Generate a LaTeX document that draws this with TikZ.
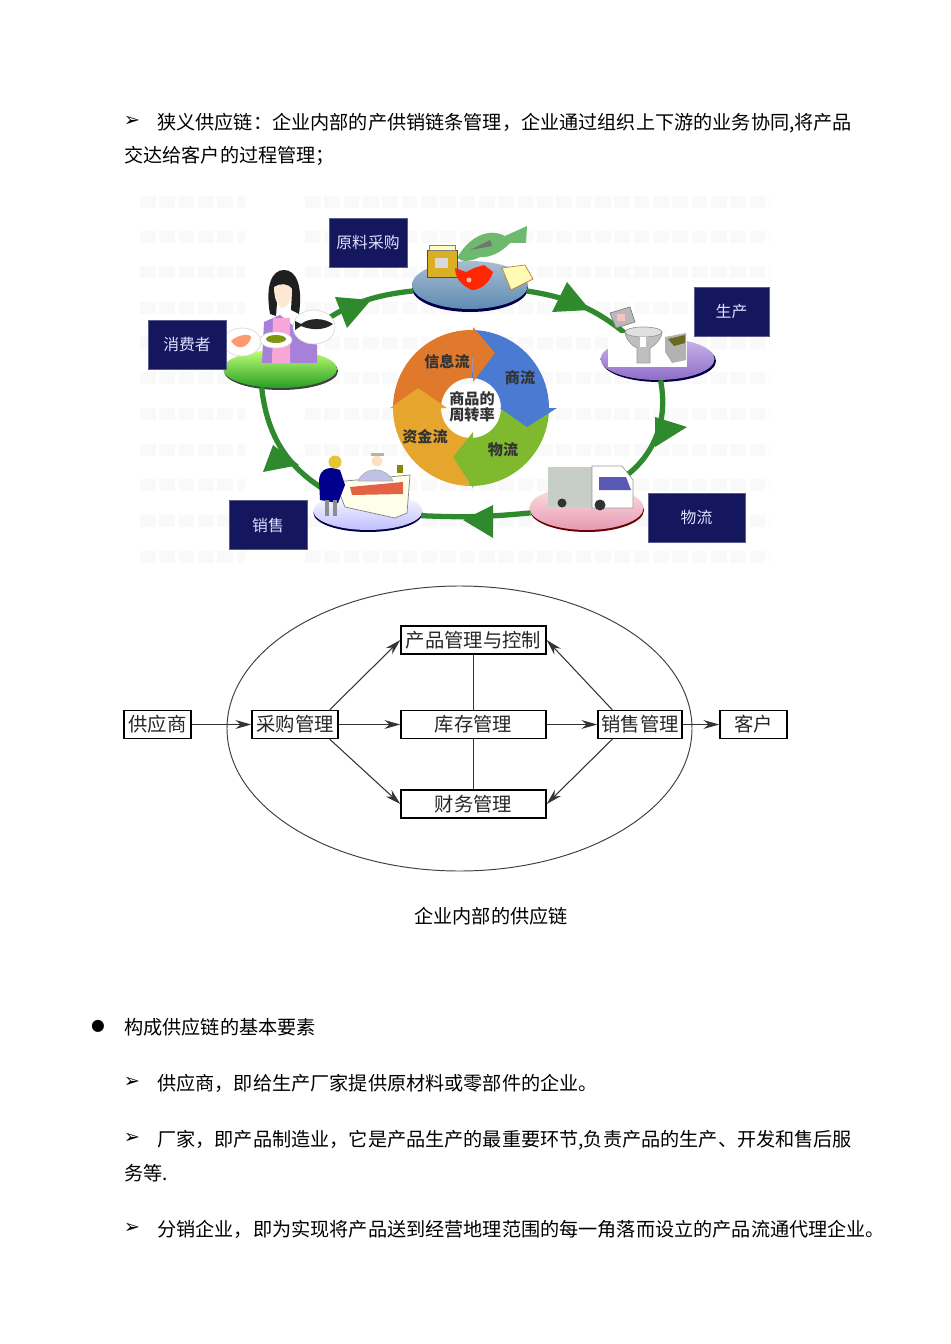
\documentclass[tikz,border=0pt]{standalone}
\usepackage{fontspec}
\setmainfont{Noto Sans CJK SC}
\newfontfamily\symfont{DejaVu Sans}
\usetikzlibrary{positioning}
\usetikzlibrary{arrows.meta}
\usetikzlibrary{shapes.geometric}
\definecolor{navy}{HTML}{14165E}
\definecolor{ringgreen}{HTML}{2E8A2C}
\definecolor{flowred}{HTML}{E0792C}
\definecolor{flowblue}{HTML}{4A7AD2}
\definecolor{flowgreen}{HTML}{7FBA2E}
\definecolor{flowyellow}{HTML}{E6A52C}
\definecolor{rawtop}{HTML}{A9BCD0}
\definecolor{rawlow}{HTML}{5E8CB4}
\definecolor{prodtop}{HTML}{C9B6EA}
\definecolor{prodlow}{HTML}{8F6CC8}

\begin{document}
\begin{tikzpicture}[x=0.02cm,y=-0.02cm,
 bodytext/.style={anchor=west,inner sep=0,yshift=0.9pt,text height=14pt,text depth=3pt,font=\fontsize{10.9pt}{13pt}\selectfont},
 symb/.style={inner sep=0,font=\symfont\fontsize{11pt}{11pt}\selectfont},
 navybox/.style={fill=navy,draw=navy!70!white,text=white!88!blue,inner sep=0,minimum width=1.56cm,minimum height=0.98cm,font=\fontsize{9pt}{10pt}\selectfont},
 disc/.style={ellipse,inner sep=0,minimum width=2.28cm},
 ringline/.style={ringgreen,line width=3pt},
 ringhead/.style={fill=ringgreen},
 cycletext/.style={inner sep=0,font=\fontsize{8.6pt}{10pt}\selectfont\bfseries,text=black!80},
 flowbox/.style={draw,line width=0.8pt,inner sep=0,minimum height=0.56cm,font=\fontsize{11pt}{13pt}\selectfont,text=black!85},
 flowline/.style={black!80,line width=0.6pt},
 flowarrow/.style={flowline,-{Stealth[length=9pt,width=5pt]}}]
\useasboundingbox (0,0) rectangle (950,1344);

% faint print from the back of the scan
\foreach \y in {202,237,272,308,343,378,414,450,485,521,557}{
 \draw[black!2.5,line width=7pt,dash pattern=on 9pt off 2pt] (140,\y)--(245,\y);
 \draw[black!2.5,line width=7pt,dash pattern=on 9pt off 2pt] (305,\y)--(770,\y);
}

% text on top
\node[symb] (m1) at (132,121) {➢};
\node[bodytext] (t1) at (157,121) {狭义供应链：企业内部的产供销链条管理，企业通过组织上下游的业务协同,将产品};
\node[bodytext] (t2) at (124,154) {交达给客户的过程管理；};

% shadows under the discs
\fill[black!70!blue] (470,288) ellipse [x radius=58,y radius=24];
\fill[black!75!blue] (659,361) ellipse [x radius=57,y radius=21];
\fill[black!60!red] (587,510) ellipse [x radius=57,y radius=22];
\fill[black!75!blue] (368,513) ellipse [x radius=54.5,y radius=19];
\fill[black!75] (281,371) ellipse [x radius=57,y radius=19];

\node[disc,minimum width=2.32cm,minimum height=0.96cm,top color=rawtop,bottom color=rawlow] (raw) at (470,285) {};
\node[disc,minimum height=0.84cm,top color=prodtop,bottom color=prodlow] (prod) at (657.5,359) {};
\node[disc,minimum height=0.88cm,top color=pink!45!white,bottom color=purple!40!white] (trans) at (586.5,508) {};
\node[disc,minimum width=2.18cm,minimum height=0.76cm,top color=white,bottom color=blue!25!white] (sale) at (368,511) {};
\node[disc,minimum height=0.76cm,top color=green!45!yellow!55!white,bottom color=green!55!black!85!white] (cons) at (280,369) {};

% green ring
\draw[ringline] (cons.60) to[bend left=20] (raw.186);
\draw[ringline] (raw.-6) to[bend left=16] (prod.142);
\draw[ringline] (prod.-82) to[bend left=38] (trans.45);
\draw[ringline] (trans.185) to[bend left=4] (sale.-5);
\draw[ringline] (sale.155) to[bend left=28] (cons.-135);
\fill[ringhead] (335,297)--(371,300)--(347,328)--cycle;
\fill[ringhead] (567,282)--(552,312)--(590,310)--cycle;
\fill[ringhead] (655,417)--(687,427)--(655,447)--cycle;
\fill[ringhead] (463,520)--(493,505)--(493,538)--cycle;
\fill[ringhead] (273,445)--(299,465)--(263,472)--cycle;

% raw material
\fill[gray!65!green!85!white] (457,258) .. controls (470,235) and (490,228) .. (505,236) -- (527,226) -- (526,243) -- (510,243) .. controls (502,252) and (490,258) .. (480,257) .. controls (470,262) and (462,262) .. (457,258) -- cycle;
\fill[black!55] (470,250) -- (490,240) -- (492,246) -- cycle;
\fill[yellow!55!orange!85!black,draw=black!70] (427,250) -- (457,250) -- (457,277) -- (427,277) -- cycle;
\fill[yellow!25!white,draw=black!50] (429,245) rectangle (455,250);
\fill[white!70!gray] (435,258) rectangle (448,268);
\fill[red!70!orange] (455,268) -- (466,272) -- (474,268) -- (484,265) -- (493,272) .. controls (490,283) and (480,290) .. (472,290) .. controls (462,286) and (455,278) .. (455,268) -- cycle;
\fill[white!70!red] (469,280) circle (2.5);
\fill[yellow!30!white,draw=brown] (502,268) -- (525,265) -- (533,279) -- (511,290) -- cycle;

% production
\fill[white] (608,333) rectangle (687,367);
\fill[gray!55,draw=black!50] (610,313) -- (630,307) -- (635,322) -- (616,328) -- cycle;
\fill[red!25!white] (617,314) rectangle (625,321);
\fill[black!25,draw=black!40] (625,332) .. controls (626,340) and (632,346) .. (637,348) -- (637,363) -- (650,363) -- (650,348) .. controls (654,346) and (661,340) .. (662,332) -- cycle;
\fill[black!12,draw=black!40] (643.5,332) ellipse [x radius=18.5,y radius=5];
\fill[white] (640,337) rectangle (646,347);
\fill[black!30] (665,337) -- (686,333) -- (686,360) -- (672,363) -- (665,352) -- cycle;
\fill[olive!70!black] (668,339) -- (685,335) -- (685,343) -- (674,346) -- cycle;

% truck
\fill[green!10!black!22] (548,467) rectangle (597,507);
\fill[white,draw=black!40] (592,466) -- (622,466) -- (633,480) -- (633,508) -- (592,508) -- cycle;
\fill[blue!55!black!65!white] (599,477) -- (626,477) -- (631,490) -- (599,490) -- cycle;
\fill[black!80] (562,503) circle (4.5);
\fill[black!80] (600,505) circle (5.5);

% counter
\fill[white!92!yellow,draw=black!50] (335,482) -- (410,475) -- (407,513) -- (395,518) -- (345,507) -- cycle;
\fill[red!45!brown!85!white] (350,487) -- (403,482) -- (403,494) -- (352,495) -- cycle;
\fill[olive] (397,465) rectangle (403,473);
\fill[blue!55!black] (319,480) .. controls (320,468) and (330,466) .. (340,470) -- (345,485) -- (338,503) -- (320,500) -- cycle;
\fill[black!45] (325,500) rectangle (329,516);
\fill[black!45] (333,500) rectangle (337,516);
\fill[yellow!55!brown] (335,462) circle (6.5);
\fill[cyan!25!blue!25!white,draw=black!30] (358,481) .. controls (365,466) and (385,466) .. (393,481) -- cycle;
\fill[orange!25!white] (377,461) circle (5.5);
\fill[black!30] (371,453) rectangle (384,456);

% consumer
\fill[blue!40!violet!50!white] (262,363) -- (264,322) -- (280,315) -- (317,345) -- (317,363) -- cycle;
\fill[magenta!35!white] (272,363) -- (273,318) -- (290,318) -- (290,363) -- cycle;
\fill[black!88] (270,314) .. controls (265,285) and (272,270) .. (284,270) .. controls (296,270) and (303,285) .. (299,314) -- (291,310) -- (292,292) -- (278,290) -- (276,316) -- cycle;
\fill[orange!18!white] (274,287) .. controls (280,283) and (288,283) .. (292,289) .. controls (292,300) and (287,308) .. (282,308) .. controls (277,305) and (274,298) .. (274,287) -- cycle;
\fill[white,draw=black!15] (242,342) ellipse [x radius=19,y radius=14];
\fill[red!45!orange!55!white] (231,341) .. controls (238,334) and (252,333) .. (251,338) .. controls (248,347) and (238,352) .. (231,341) -- cycle;
\fill[white,draw=black!15] (276,340) ellipse [x radius=16,y radius=8];
\fill[olive!70!green] (276,339) ellipse [x radius=10,y radius=4];
\fill[white,draw=black!15] (314,327) ellipse [x radius=21,y radius=17];
\fill[black!85] (295,321) -- (301,324) .. controls (310,317) and (324,318) .. (333,324) .. controls (324,331) and (310,330) .. (301,326) -- (295,330) -- cycle;

% the small cycle
\begin{scope}[shift={(471,408)}]
 \fill[flowred] plot[domain=182:272,samples=24] (\x:78) -- plot[domain=272:182,samples=24] (\x:30) -- cycle;
 \fill[flowblue] plot[domain=272:362,samples=24] (\x:78) -- plot[domain=362:272,samples=24] (\x:30) -- cycle;
 \fill[flowgreen] plot[domain=2:92,samples=24] (\x:78) -- plot[domain=92:2,samples=24] (\x:30) -- cycle;
 \fill[flowyellow] plot[domain=92:182,samples=24] (\x:78) -- plot[domain=182:92,samples=24] (\x:30) -- cycle;
\end{scope}
\fill[flowred] (473,327)--(495,353)--(473,382)--cycle;
\fill[flowblue] (500,408)--(557,408)--(527,427)--cycle;
\fill[flowgreen] (473,432)--(473,488)--(453,457)--cycle;
\fill[flowyellow] (390,408)--(447,408)--(418,388)--cycle;
\node[cycletext] (info) at (447,362) {信息流};
\node[cycletext] (biz) at (520,378) {商流};
\node[cycletext] (goods) at (503,450) {物流};
\node[cycletext] (fund) at (425,437) {资金流};
\node[cycletext] (rate1) at (472,399) {商品的};
\node[cycletext] (rate2) at (472,415) {周转率};

% dark boxes
\node[navybox] (bcg) at (368,242.5) {原料采购};
\node[navybox,minimum width=1.5cm] (bsc) at (731.5,311.5) {生产};
\node[navybox,minimum width=1.94cm] (bwl) at (696.5,517.5) {物流};
\node[navybox] (bxs) at (268,525) {销售};
\node[navybox] (bxf) at (187,344.5) {消费者};

% inner supply chain
\draw[black!75,line width=0.55pt] (459.5,728.5) ellipse [x radius=232.5,y radius=142.5];
\node[flowbox,minimum width=1.34cm] (sup) at (157.5,724.5) {供应商};
\node[flowbox,minimum width=1.72cm] (buy) at (295,724.5) {采购管理};
\node[flowbox,minimum width=2.9cm] (stock) at (473.5,724.5) {库存管理};
\node[flowbox,minimum width=1.68cm] (sell) at (640,724.5) {销售管理};
\node[flowbox,minimum width=1.34cm] (cust) at (753.5,724.5) {客户};
\node[flowbox,minimum width=2.9cm] (ctrl) at (473.5,640) {产品管理与控制};
\node[flowbox,minimum width=2.9cm] (fin) at (473.5,804) {财务管理};
\draw[flowarrow] (sup)--(buy);
\draw[flowarrow] (buy)--(stock);
\draw[flowarrow] (stock)--(sell);
\draw[flowarrow] (sell)--(cust);
\draw[flowarrow] ([xshift=-0.18cm]buy.north east)--(ctrl.west);
\draw[flowarrow] ([xshift=-0.18cm]buy.south east)--(fin.west);
\draw[flowarrow] ([xshift=0.3cm]sell.north west)--(ctrl.east);
\draw[flowarrow] ([xshift=0.3cm]sell.south west)--(fin.east);
\draw[flowline] (ctrl)--(stock);
\draw[flowline] (stock)--(fin);
\node[bodytext,anchor=center] (cap) at (491,915) {企业内部的供应链};

% text below
\node[symb,font=\symfont\fontsize{9pt}{9pt}\selectfont] (m2) at (98,1026) {●};
\node[bodytext] (t3) at (124,1026) {构成供应链的基本要素};
\node[symb] (m3) at (132,1082) {➢};
\node[bodytext] (t4) at (157,1082) {供应商，即给生产厂家提供原材料或零部件的企业。};
\node[symb] (m4) at (132,1138) {➢};
\node[bodytext] (t5) at (157,1138) {厂家，即产品制造业，它是产品生产的最重要环节,负责产品的生产、开发和售后服};
\node[bodytext] (t6) at (124,1172) {务等.};
\node[symb] (m5) at (132,1228) {➢};
\node[bodytext] (t7) at (157,1228) {分销企业，即为实现将产品送到经营地理范围的每一角落而设立的产品流通代理企业。};
\end{tikzpicture}
\end{document}
